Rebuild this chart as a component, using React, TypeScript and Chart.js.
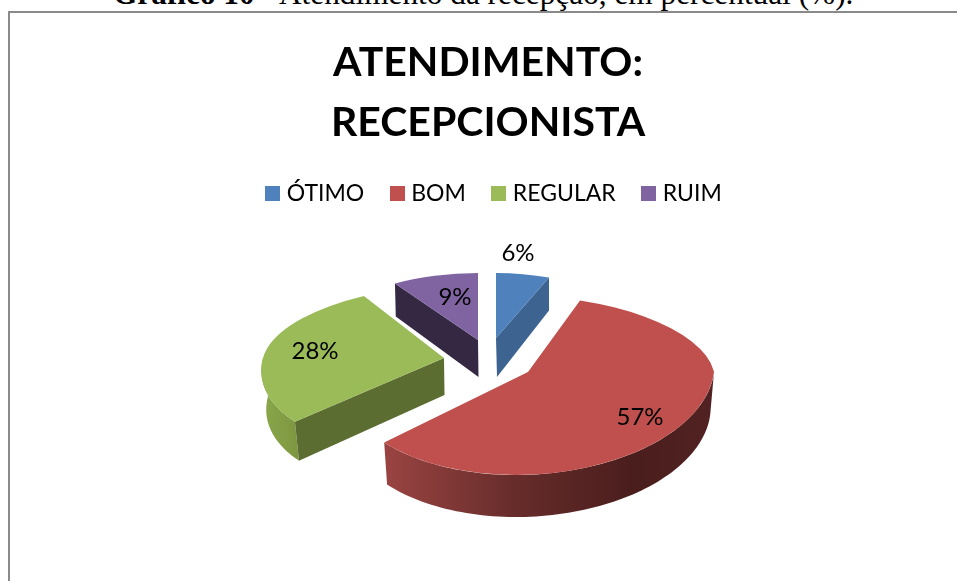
import React, { useEffect, useRef } from "react";
import { Chart, registerables } from "chart.js";

Chart.register(...registerables);

const categories = ["ÓTIMO", "BOM", "REGULAR", "RUIM"];
const percentages = [6, 57, 28, 9];
const colors = ["#4f81bd", "#c0504d", "#9bbb59", "#8064a2"];
const titleLines = ["ATENDIMENTO:", "RECEPCIONISTA"];

const FONT = "Lato, 'Open Sans', sans-serif";

// Projection of each exploded slice (3D look), keyed by category index
const projection = [
  { tip: [496, 338], rx: 144, ryBack: 65, ryFront: 65, skewBack: 0, skewFront: 0, depthTip: 39, depthRim: 33, bottomScale: 1, wall: "end", wallColor: "#3d6490", label: [22, -85] },
  { tip: [528, 372], rx: 186, ryBack: 77, ryFront: 103, skewBack: 17.7, skewFront: -12, depthTip: 42, depthRim: 42, bottomScale: 0.98, wall: null, wallColor: "", label: [112, 45] },
  { tip: [444, 358], rx: 181, ryBack: 73.5, ryFront: 93, skewBack: -20, skewFront: -25, depthTip: 37, depthRim: 39, bottomScale: 0.973, wall: "start", wallColor: "#5c6d32", label: [-129, -7] },
  { tip: [478, 340], rx: 155, ryBack: 67, ryFront: 67, skewBack: 0, skewFront: 0, depthTip: 37, depthRim: 33, bottomScale: 0.99, wall: "start", wallColor: "#352842", label: [-23, -43] },
];
const drawOrder = [3, 0, 2, 1];

type Geo = (typeof projection)[number];

function rim(g: Geo, a: number): [number, number] {
  const ux = Math.cos(a);
  const uy = Math.sin(a);
  const back = uy < 0;
  return [
    g.tip[0] + g.rx * ux + (back ? g.skewBack : g.skewFront) * uy,
    g.tip[1] + (back ? g.ryBack : g.ryFront) * uy,
  ];
}
function rimBottom(g: Geo, a: number): [number, number] {
  const [x, y] = rim(g, a);
  return [g.tip[0] + (x - g.tip[0]) * g.bottomScale, y + g.depthRim];
}

function poly(ctx: CanvasRenderingContext2D, pts: [number, number][], fill: any) {
  ctx.beginPath();
  pts.forEach((p, i) => (i ? ctx.lineTo(p[0], p[1]) : ctx.moveTo(p[0], p[1])));
  ctx.closePath();
  ctx.fillStyle = fill;
  ctx.fill();
}

const pie3d = {
  id: "pie3d",
  afterLayout(chart: any) {
    // legend sits slightly right of the title in the reference
    chart.legend.left += 8;
    chart.legend.right += 8;
  },
  beforeDatasetsDraw(chart: any) {
    const ctx: CanvasRenderingContext2D = chart.ctx;
    const arcs = chart.getDatasetMeta(0).data;
    for (const i of drawOrder) {
      const arc = arcs[i];
      const g = projection[i];
      const R = arc.outerRadius;
      const { startAngle: a0, endAngle: a1 } = arc;

      // side wall along the rim, only on the near half
      const from = Math.max(a0, 0);
      const to = Math.min(a1, Math.PI);
      if (to > from) {
        const top: [number, number][] = [];
        const bottom: [number, number][] = [];
        const n = 80;
        for (let k = 0; k <= n; k++) {
          const a = from + ((to - from) * k) / n;
          top.push(rim(g, a));
          bottom.push(rimBottom(g, a));
        }
        const xs = top.concat(bottom).map((p) => p[0]);
        const grad = ctx.createLinearGradient(Math.min(...xs), 0, Math.max(...xs), 0);
        if (i === 1) {
          grad.addColorStop(0, "#9a4442");
          grad.addColorStop(0.4, "#662c2a");
          grad.addColorStop(0.75, "#4a1e1d");
          grad.addColorStop(1, "#512221");
        } else {
          grad.addColorStop(0, "#8aa84b");
          grad.addColorStop(1, "#7d9640");
        }
        poly(ctx, top.concat(bottom.reverse()), grad);
      }

      // side wall along the visible cut edge
      if (g.wall) {
        const a = g.wall === "start" ? a0 : a1;
        const t = g.tip as number[];
        poly(
          ctx,
          [
            [t[0], t[1]],
            rim(g, a),
            rimBottom(g, a),
            [t[0] + (g.bottomScale === 1 ? 1 : 0.5), t[1] + g.depthTip],
          ],
          g.wallColor
        );
      }

      // top face: the library's own arc element under an affine projection
      const half = (back: boolean) => {
        ctx.save();
        ctx.transform(
          g.rx / R,
          0,
          (back ? g.skewBack : g.skewFront) / R,
          (back ? g.ryBack : g.ryFront) / R,
          g.tip[0],
          g.tip[1]
        );
        ctx.beginPath();
        if (back) ctx.rect(-R - 4, -R - 4, 2 * R + 8, R + 4.5);
        else ctx.rect(-R - 4, 0, 2 * R + 8, R + 4);
        ctx.clip();
        ctx.translate(-arc.x, -arc.y);
        arc.draw(ctx);
        ctx.restore();
      };
      half(true);
      half(false);
    }
    // value labels
    ctx.save();
    ctx.fillStyle = "#000";
    ctx.font = `24px ${FONT}`;
    ctx.textAlign = "center";
    ctx.textBaseline = "middle";
    percentages.forEach((v, i) => {
      const g = projection[i];
      ctx.fillText(`${v}%`, g.tip[0] + g.label[0], g.tip[1] + g.label[1]);
    });
    ctx.restore();
    return false;
  },
};

function legendSwatch(color: string) {
  const c = document.createElement("canvas");
  c.width = 15;
  c.height = 15;
  const x = c.getContext("2d")!;
  x.fillStyle = color;
  x.fillRect(0, 0, 15, 15);
  return c;
}

export default function App() {
  const ref = useRef<HTMLCanvasElement>(null);
  useEffect(() => {
    const chart = new Chart(ref.current!, {
      type: "pie",
      data: {
        labels: categories,
        datasets: [{ data: percentages, backgroundColor: colors, borderWidth: 0 }],
      },
      plugins: [pie3d],
      options: {
        responsive: false,
        animation: false,
        layout: { padding: { left: 19 } },
        plugins: {
          tooltip: { enabled: false },
          title: {
            display: true,
            text: titleLines,
            color: "#000",
            font: { family: FONT, size: 41, weight: "bold", lineHeight: 1.46 },
            padding: { top: 33, bottom: -1 },
          },
          legend: {
            position: "top",
            labels: {
              color: "#000",
              font: { family: FONT, size: 23 },
              usePointStyle: true,
              pointStyleWidth: 5,
              padding: 30.5,
              generateLabels: () =>
                categories.map((text, i) => ({
                  text,
                  index: i,
                  fillStyle: colors[i],
                  strokeStyle: colors[i],
                  lineWidth: 0,
                  hidden: false,
                  pointStyle: legendSwatch(colors[i]),
                })),
            },
          },
        },
      } as any,
    });
    return () => chart.destroy();
  }, []);

  return (
    <div style={{ position: "fixed", inset: 0, overflow: "hidden", background: "#fff" }}>
      <div
        style={{
          position: "absolute",
          left: 113,
          top: -24,
          whiteSpace: "nowrap",
          font: "31.3px 'Liberation Serif', serif",
          color: "#000",
        }}
      >
        <b>Gráfico 10</b> - Atendimento da recepção, em percentual (%).
      </div>
      <div
        style={{
          position: "absolute",
          left: 8,
          top: 11,
          right: -10,
          bottom: -10,
          borderLeft: "2px solid #8a8a8a",
          borderTop: "2px solid #8a8a8a",
        }}
      />
      <canvas ref={ref} width={957} height={581} style={{ position: "absolute", left: 0, top: 0 }} />
    </div>
  );
}
